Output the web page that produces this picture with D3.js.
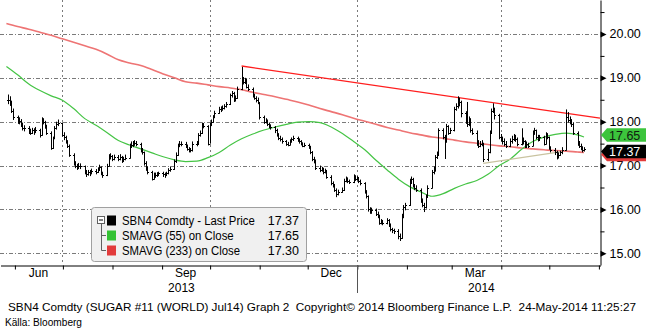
<!DOCTYPE html>
<html>
<head>
<meta charset="utf-8">
<script src="https://cdn.jsdelivr.net/npm/d3@7"></script>
<style>
  html, body { margin: 0; padding: 0; background: #fff; overflow: hidden; }
  svg text { font-family: "Liberation Sans", Arial, sans-serif; }
</style>
</head>
<body>
<svg id="chart" width="646" height="329"></svg>
<script>
// Daily SBN4 (Sugar #11, Jul14) prices, one entry per trading day from 28-May-2013 to 23-May-2014
const closes = [
  18.50, 18.45, 18.25, 18.10,
  18.00, 18.02, 17.95, 17.85, 17.85,
  17.80, 17.75, 17.80, 17.78, 17.82,
  17.70, 18.05, 18.00, 17.90, 17.75,
  17.40, 17.63, 17.85, 17.95, 17.98,
  17.70, 17.65, 17.55, 17.45, 17.25,
  17.05, 17.00, 16.95, 17.00, 16.98,
  16.85, 16.80, 16.85, 16.82, 16.88,
  16.85, 16.90, 16.97, 16.82, 16.78,
  17.00, 17.20, 17.22, 17.15, 17.20,
  17.15, 17.20, 17.10, 17.15, 17.18,
  17.45, 17.48, 17.50, 17.52, 17.50,
  17.35, 17.30, 17.05, 16.95, 16.85,
  16.70, 16.80, 16.78, 16.80, 16.82,
  16.80, 16.78, 16.82, 16.90, 16.92,
  17.10, 17.25, 17.45, 17.50, 17.50,
  17.45, 17.38, 17.35, 17.35, 17.50,
  17.50, 17.70, 17.75, 17.95, 17.90,
  17.50, 17.95, 18.00, 18.10, 18.20,
  18.30, 18.28, 18.32, 18.35, 18.40,
  18.60, 18.65, 18.50, 18.55, 18.75,
  18.95, 18.90, 18.95, 18.80, 18.75,
  18.60, 18.55, 18.50, 18.45, 18.10,
  18.00, 18.02, 17.95, 17.90, 17.88,
  17.80, 17.70, 17.62, 17.60, 17.55,
  17.50, 17.48, 17.55, 17.60, 17.62,
  17.58, 17.55, 17.50, 17.45, 17.48,
  17.42, 17.30, 17.15, 17.10, 16.95,
  16.90, 16.92, 16.85, 16.88, 16.75,
  16.60, 16.55, 16.45, 16.35, 16.40,
  16.45, 16.65, 16.70, 16.65, 16.62,
  16.75, 16.70, 16.72, 16.65, 16.60,
  16.40, 16.30, 16.00, 15.95, 15.98,
  15.90, 15.85, 15.70, 15.72, 15.70,
  15.75, 15.65, 15.55, 15.52, 15.50,
  15.40, 15.35, 15.85, 16.05, 16.10,
  16.65, 16.70, 16.55, 16.50, 16.45,
  16.20, 16.10, 16.05, 16.30, 16.50,
  16.85, 16.90, 17.20, 17.25, 17.80,
  17.65, 17.55, 17.90, 17.75, 17.80,
  18.30, 18.35, 18.50, 18.45, 18.20,
  18.00, 17.95, 18.05, 17.80, 17.75,
  17.50, 17.45, 17.50, 17.50, 17.15,
  17.30, 17.75, 18.25, 18.30, 18.15,
  17.65, 17.60, 17.55, 17.50, 17.45,
  17.55, 17.60, 17.65, 17.60, 17.50,
  17.60, 17.55, 17.45, 17.50, 17.45,
  17.75, 17.80, 17.65, 17.60, 17.65,
  17.50, 17.70, 17.65, 17.40, 17.35,
  17.30, 17.20, 17.25, 17.30, 17.35,
  18.10, 18.05, 18.00, 17.95, 17.75,
  17.50, 17.45, 17.40, 17.35, 17.37
];
const highs = [
  18.62, 18.58, 18.48, 18.30,
  18.14, 18.10, 18.06, 17.98, 17.92,
  17.90, 17.84, 17.86, 17.85, 17.88,
  17.84, 18.10, 18.08, 18.02, 17.93,
  17.78, 17.66, 17.90, 18.00, 18.05,
  17.98, 17.76, 17.68, 17.58, 17.48,
  17.28, 17.10, 17.04, 17.06, 17.05,
  17.00, 16.90, 16.90, 16.90, 16.93,
  16.92, 16.96, 17.02, 16.98, 16.86,
  17.04, 17.26, 17.28, 17.24, 17.25,
  17.24, 17.26, 17.22, 17.20, 17.25,
  17.50, 17.55, 17.56, 17.58, 17.56,
  17.52, 17.40, 17.32, 17.10, 16.98,
  16.88, 16.84, 16.84, 16.85, 16.86,
  16.86, 16.84, 16.86, 16.94, 16.98,
  17.14, 17.30, 17.50, 17.56, 17.55,
  17.54, 17.48, 17.42, 17.40, 17.55,
  17.56, 17.74, 17.80, 17.98, 17.97,
  17.92, 17.98, 18.05, 18.15, 18.25,
  18.34, 18.35, 18.37, 18.40, 18.45,
  18.64, 18.70, 18.68, 18.60, 18.80,
  19.25, 19.02, 19.00, 18.98, 18.85,
  18.78, 18.64, 18.58, 18.55, 18.45,
  18.14, 18.08, 18.05, 17.98, 17.94,
  17.90, 17.84, 17.74, 17.68, 17.64,
  17.58, 17.54, 17.60, 17.64, 17.68,
  17.66, 17.62, 17.58, 17.53, 17.52,
  17.50, 17.45, 17.33, 17.20, 17.14,
  17.00, 16.97, 16.95, 16.93, 16.90,
  16.78, 16.64, 16.58, 16.48, 16.45,
  16.50, 16.70, 16.75, 16.73, 16.68,
  16.80, 16.78, 16.76, 16.74, 16.68,
  16.62, 16.44, 16.32, 16.05, 16.04,
  16.02, 15.95, 15.88, 15.78, 15.76,
  15.80, 15.78, 15.68, 15.58, 15.56,
  15.55, 15.45, 15.90, 16.10, 16.15,
  16.70, 16.75, 16.72, 16.58, 16.55,
  16.48, 16.25, 16.15, 16.34, 16.55,
  16.90, 16.98, 17.24, 17.32, 17.85,
  17.85, 17.70, 17.95, 17.92, 17.86,
  18.34, 18.42, 18.58, 18.55, 18.48,
  18.24, 18.45, 18.12, 18.08, 17.85,
  17.80, 17.58, 17.56, 17.58, 17.52,
  17.38, 17.80, 18.30, 18.42, 18.32,
  18.18, 17.72, 17.66, 17.62, 17.56,
  17.62, 17.68, 17.72, 17.70, 17.64,
  17.85, 17.64, 17.58, 17.55, 17.52,
  17.80, 17.86, 17.82, 17.70, 17.70,
  17.68, 17.76, 17.74, 17.66, 17.44,
  17.40, 17.34, 17.30, 17.34, 17.42,
  18.28, 18.22, 18.12, 18.06, 17.98,
  17.78, 17.56, 17.50, 17.44, 17.42
];
const lows = [
  18.40, 18.36, 18.20, 18.04,
  17.95, 17.94, 17.88, 17.80, 17.78,
  17.72, 17.70, 17.72, 17.70, 17.74,
  17.64, 17.68, 17.94, 17.84, 17.70,
  17.36, 17.38, 17.60, 17.82, 17.90,
  17.66, 17.58, 17.50, 17.40, 17.20,
  17.00, 16.94, 16.90, 16.92, 16.92,
  16.80, 16.74, 16.77, 16.76, 16.80,
  16.80, 16.83, 16.88, 16.78, 16.72,
  16.76, 16.98, 17.14, 17.10, 17.12,
  17.10, 17.12, 17.06, 17.08, 17.12,
  17.16, 17.40, 17.42, 17.45, 17.44,
  17.30, 17.25, 17.00, 16.88, 16.80,
  16.66, 16.68, 16.72, 16.74, 16.76,
  16.74, 16.72, 16.76, 16.80, 16.86,
  16.90, 17.06, 17.22, 17.42, 17.44,
  17.40, 17.34, 17.30, 17.30, 17.32,
  17.44, 17.48, 17.66, 17.72, 17.85,
  17.46, 17.50, 17.90, 17.98, 18.08,
  18.18, 18.22, 18.25, 18.28, 18.32,
  18.38, 18.55, 18.45, 18.46, 18.52,
  18.72, 18.85, 18.86, 18.76, 18.70,
  18.55, 18.50, 18.44, 18.40, 18.05,
  17.95, 17.96, 17.90, 17.85, 17.82,
  17.74, 17.66, 17.58, 17.55, 17.50,
  17.45, 17.44, 17.46, 17.52, 17.56,
  17.54, 17.50, 17.46, 17.42, 17.42,
  17.38, 17.26, 17.10, 17.05, 16.90,
  16.85, 16.86, 16.80, 16.82, 16.70,
  16.55, 16.50, 16.40, 16.28, 16.32,
  16.38, 16.42, 16.62, 16.60, 16.58,
  16.60, 16.65, 16.66, 16.60, 16.55,
  16.36, 16.25, 15.95, 15.90, 15.90,
  15.85, 15.80, 15.65, 15.66, 15.64,
  15.66, 15.60, 15.50, 15.46, 15.44,
  15.32, 15.28, 15.33, 15.80, 15.98,
  16.08, 16.58, 16.50, 16.44, 16.40,
  16.15, 16.05, 15.94, 16.02, 16.26,
  16.48, 16.80, 16.86, 17.15, 17.22,
  17.60, 17.15, 17.52, 17.70, 17.72,
  17.78, 18.25, 18.30, 18.35, 18.10,
  17.95, 17.88, 17.90, 17.75, 17.70,
  17.45, 17.40, 17.42, 17.44, 17.08,
  17.10, 17.28, 17.72, 18.20, 18.05,
  17.60, 17.55, 17.48, 17.44, 17.40,
  17.42, 17.50, 17.56, 17.54, 17.44,
  17.46, 17.48, 17.40, 17.40, 17.40,
  17.44, 17.70, 17.60, 17.55, 17.56,
  17.46, 17.48, 17.60, 17.36, 17.30,
  17.24, 17.14, 17.16, 17.22, 17.26,
  17.34, 17.98, 17.94, 17.88, 17.70,
  17.45, 17.40, 17.35, 17.30, 17.32
];

// Moving averages sampled each Monday from 27-May-2013, last entry is 23-May-2014
const sma55 = [
  19.26, 19.07, 18.86, 18.71, 18.59, 18.49, 18.30, 18.07, 17.92, 17.75,
  17.57, 17.47, 17.38, 17.29, 17.20, 17.13, 17.09, 17.10, 17.18, 17.30,
  17.47, 17.61, 17.72, 17.81, 17.88, 17.94, 17.99, 18.00, 17.98, 17.88,
  17.73, 17.55, 17.36, 17.12, 16.90, 16.69, 16.52, 16.40, 16.30, 16.36,
  16.48, 16.58, 16.66, 16.80, 17.00, 17.15, 17.37, 17.55, 17.65, 17.71,
  17.74, 17.70, 17.65
];
const sma233 = [
  20.24, 20.17, 20.11, 20.04, 19.97, 19.89, 19.81, 19.73, 19.65, 19.54,
  19.41, 19.34, 19.28, 19.19, 19.09, 19.00, 18.91, 18.88, 18.84, 18.80,
  18.77, 18.73, 18.67, 18.62, 18.57, 18.51, 18.45, 18.38, 18.30, 18.23,
  18.16, 18.08, 18.01, 17.94, 17.87, 17.81, 17.75, 17.70, 17.65, 17.62,
  17.58, 17.54, 17.51, 17.48, 17.45, 17.43, 17.40, 17.38, 17.36, 17.34,
  17.33, 17.31, 17.30
];

// Trend lines: resistance from the October high, support from the March low
const resistanceDates = ["2013-10-21", "2014-06-02"];
const resistanceValues = [19.27, 18.08];
const supportDates = ["2014-03-21", "2014-05-09"];
const supportValues = [17.05, 17.32];

const yTicks = [15, 16, 17, 18, 19, 20];
const yMinorTicks = [15.5, 16.5, 17.5, 18.5, 19.5, 20.5];
const monthLabels = [["2013-06-01", "Jun"], ["2013-09-01", "Sep"], ["2013-12-01", "Dec"], ["2014-03-01", "Mar"]];
const yearLabels = ["2013", "2014"];

const legendNames = ["SBN4 Comdty - Last Price", "SMAVG (55) on Close", "SMAVG (233) on Close"];
const legendValues = [17.37, 17.65, 17.30];
const seriesColors = ["#000000", "#33c233", "#e23b3b"];

const footerText = "SBN4 Comdty (SUGAR #11 (WORLD) Jul14) Graph 2  Copyright\u00A9 2014 Bloomberg Finance L.P.  24-May-2014 11:25:27";
const sourceText = "K\u00E4lla: Bloomberg";

// ---------------------------------------------------------------
const parse = d3.utcParse("%Y-%m-%d");
const svg = d3.select("#chart");

const plotRight = 600, plotBottom = 265;
const x = d3.scaleUtc().domain([parse("2013-05-23"), parse("2014-06-02")]).range([0, plotRight]);
const y = d3.scaleLinear().domain([14.733, 20.775]).range([plotBottom, 0]);

// trading days (weekdays) of the price series
const tradingDays = d3.utcDays(parse("2013-05-28"), d3.utcDay.offset(parse("2014-05-23"), 1))
  .filter(d => d.getUTCDay() !== 0 && d.getUTCDay() !== 6);
const bars = tradingDays.map((d, i) => ({
  date: d, close: closes[i], high: highs[i], low: lows[i],
  open: i > 0 ? closes[i - 1] : closes[0]
}));

// dates for the moving-average samples
const maDates = d3.utcMondays(parse("2013-05-27"), parse("2014-05-20")).concat([parse("2014-05-23")]);

const px = v => Math.round(v) + 0.5;

// --- grid ---
const grid = svg.append("g");
grid.selectAll("line.h").data(yTicks).join("line")
  .attr("x1", 0).attr("x2", plotRight)
  .attr("y1", d => px(y(d))).attr("y2", d => px(y(d)))
  .attr("stroke", "#7a7a7a").attr("stroke-width", 1)
  .attr("stroke-dasharray", "4,2,1,2");
const quarterStarts = d3.utcMonths(x.domain()[0], x.domain()[1]).filter(d => d.getUTCMonth() % 3 === 0);
grid.selectAll("line.v").data(quarterStarts).join("line")
  .attr("x1", d => px(x(d))).attr("x2", d => px(x(d)))
  .attr("y1", 0).attr("y2", plotBottom)
  .attr("stroke", "#7a7a7a").attr("stroke-width", 1)
  .attr("stroke-dasharray", "2,3");

// --- moving averages ---
const maLine = vals => d3.line().x((d, i) => x(maDates[i])).y(d => y(d)).curve(d3.curveMonotoneX)(vals);
svg.append("path").attr("d", maLine(sma233))
  .attr("fill", "none").attr("stroke", "#ee7474").attr("stroke-width", 1.6);
svg.append("path").attr("d", maLine(sma55))
  .attr("fill", "none").attr("stroke", "#45c445").attr("stroke-width", 1.2);

// --- trend lines ---
const trend = (dates, vals) => d3.line().x((d, i) => x(parse(dates[i]))).y(d => y(d))(vals);
svg.append("path").attr("d", trend(supportDates, supportValues))
  .attr("fill", "none").attr("stroke", "#c9c3a0").attr("stroke-width", 1.3);
svg.append("path").attr("d", trend(resistanceDates, resistanceValues))
  .attr("fill", "none").attr("stroke", "#ff1e1e").attr("stroke-width", 1.3);

// --- OHLC bars ---
let barPath = "";
bars.forEach(b => {
  const bx = px(x(b.date));
  barPath += `M${bx},${y(b.high)}V${y(b.low)}`;
  barPath += `M${bx - 1.5},${px(y(b.open))}H${bx}`;
  barPath += `M${bx},${px(y(b.close))}H${bx + 1.5}`;
});
svg.append("path").attr("d", barPath).attr("fill", "none")
  .attr("stroke", "#000").attr("stroke-width", 1);

// --- bottom axis ---
const months = d3.utcMonths(x.domain()[0], x.domain()[1]);
const xAxis = svg.append("g").attr("transform", `translate(0.5,${plotBottom + 0.5})`)
  .call(d3.axisBottom(x).tickValues(months).tickSize(4).tickSizeOuter(0).tickFormat(""));
xAxis.select(".domain").attr("stroke", "#000");
xAxis.selectAll(".tick line").attr("stroke", "#000");

svg.append("line")
  .attr("x1", px(x(parse("2014-01-01")))).attr("x2", px(x(parse("2014-01-01"))))
  .attr("y1", plotBottom).attr("y2", plotBottom + 28).attr("stroke", "#555");

svg.append("g").selectAll("text").data(monthLabels).join("text")
  .attr("x", d => x(d3.utcDay.offset(parse(d[0]), 15)))
  .attr("y", 277).attr("text-anchor", "middle")
  .attr("font-size", 12).attr("fill", "#000").text(d => d[1]);
const yearBreak = x(parse("2014-01-01"));
svg.append("g").selectAll("text").data(yearLabels).join("text")
  .attr("x", (d, i) => i === 0 ? (yearBreak + 6) / 2 : (yearBreak + plotRight + 6) / 2)
  .attr("y", 292).attr("text-anchor", "middle")
  .attr("font-size", 12).attr("fill", "#000").text(d => d);

// --- right axis ---
const yAxis = svg.append("g").attr("transform", `translate(${plotRight + 0.5},0)`)
  .call(d3.axisRight(y).tickValues(yTicks).tickSize(0).tickPadding(9).tickFormat(d3.format(".2f")));
yAxis.select(".domain").attr("stroke", "#000");
yAxis.selectAll("text").attr("font-size", 12.5).attr("fill", "#000")
  .attr("font-family", "'Liberation Sans', Arial, sans-serif");
yAxis.selectAll(".tick").append("path").attr("d", "M0,-3L6,0L0,3Z").attr("fill", "#000");
const yMinor = svg.append("g").attr("transform", `translate(${plotRight + 0.5},0)`)
  .call(d3.axisRight(y).tickValues(yMinorTicks).tickSize(4).tickFormat(""));
yMinor.select(".domain").remove();
yMinor.selectAll(".tick line").attr("stroke", "#000");

// --- last-value tags ---
const tagH = 13.5;
const tags = [
  { v: legendValues[2], cy: 154.5, fill: seriesColors[2], text: "", tc: "#fff" },
  { v: legendValues[1], cy: 135, fill: "#3cc43c", text: d3.format(".2f")(legendValues[1]), tc: "#102010" },
  { v: legendValues[0], cy: 151.5, fill: "#000", text: d3.format(".2f")(legendValues[0]), tc: "#fff" }
];
const tg = svg.append("g");
tags.forEach(t => {
  const top = t.cy - tagH / 2, bot = t.cy + tagH / 2;
  tg.append("path")
    .attr("d", `M${plotRight + 1},${t.cy}L${plotRight + 7},${top}H646V${bot}H${plotRight + 7}Z`)
    .attr("fill", t.fill);
  if (t.text) tg.append("text").attr("x", 609).attr("y", t.cy + 4.5)
    .attr("font-size", 12.5).attr("fill", t.tc).text(t.text);
});

// --- legend ---
const lg = svg.append("g");
lg.append("rect").attr("x", 91.5).attr("y", 207.5).attr("width", 215).attr("height", 54)
  .attr("rx", 3).attr("fill", "#f0f0f0").attr("stroke", "#a0a0a0");
// collapse box and tree
lg.append("rect").attr("x", 97.5).attr("y", 216.5).attr("width", 7).attr("height", 7)
  .attr("fill", "#fff").attr("stroke", "#606060");
lg.append("line").attr("x1", 99).attr("x2", 103).attr("y1", 220).attr("y2", 220).attr("stroke", "#000");
lg.append("path").attr("d", "M101.5,224V250.5H106M101.5,235.5H106")
  .attr("fill", "none").attr("stroke", "#606060");
const rowY = [220.5, 235.5, 250.5];
legendNames.forEach((name, i) => {
  lg.append("rect").attr("x", 107).attr("y", rowY[i] - 5).attr("width", 9).attr("height", 10)
    .attr("fill", seriesColors[i]);
  const t = lg.append("text").attr("x", 122).attr("y", rowY[i] + 4.5).attr("font-size", 12.5)
    .attr("fill", "#000").text(name);
  // narrow the run slightly so the name clears the value column
  const w = t.node().getComputedTextLength();
  t.attr("textLength", w * 0.91).attr("lengthAdjust", "spacingAndGlyphs");
  lg.append("text").attr("x", 299).attr("y", rowY[i] + 4.5).attr("font-size", 12.5)
    .attr("text-anchor", "end").attr("fill", "#000").text(d3.format(".2f")(legendValues[i]));
});

// --- footer ---
svg.append("text").attr("x", 8).attr("y", 311).attr("font-size", 11.5)
  .attr("textLength", 628).attr("lengthAdjust", "spacingAndGlyphs")
  .style("white-space", "pre").attr("fill", "#000").text(footerText);
svg.append("text").attr("x", 5).attr("y", 326).attr("font-size", 10)
  .attr("textLength", 77).attr("lengthAdjust", "spacingAndGlyphs")
  .attr("fill", "#000").text(sourceText);
</script>
</body>
</html>
